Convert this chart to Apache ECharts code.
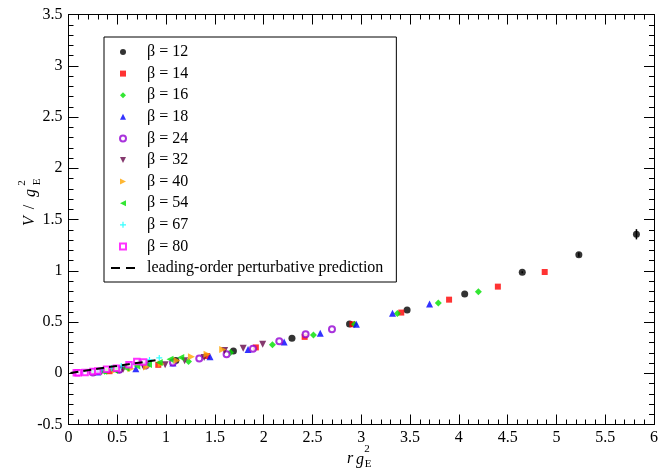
<!DOCTYPE html>
<html><head><meta charset="utf-8">
<script src="https://cdn.jsdelivr.net/npm/echarts@6/dist/echarts.min.js"></script>
<style>html,body{margin:0;padding:0;background:#fff}#c{width:661px;height:471px}</style>
</head><body><div id="c"></div>
<script>
// ---- data ----
const xRange = [0, 6];
const yRange = [-0.5, 3.5];
const tickStep = 0.5;

const b12x = [0.52, 1.10, 1.69, 2.29, 2.88, 3.47, 4.06, 4.65, 5.23, 5.82];
const b12y = [0.035, 0.125, 0.218, 0.342, 0.481, 0.618, 0.774, 0.985, 1.157, 1.356];
const b12err = [0, 0, 0, 0, 0, 0, 0, 0.01, 0.02, 0.05];

const b14x = [0.42, 0.92, 1.42, 1.92, 2.42, 2.91, 3.41, 3.90, 4.40, 4.88];
const b14y = [0.02, 0.082, 0.168, 0.252, 0.355, 0.478, 0.592, 0.718, 0.845, 0.988];

const b16x = [0.37, 0.80, 1.23, 1.66, 2.09, 2.51, 2.93, 3.37, 3.79, 4.20];
const b16y = [0.02, 0.07, 0.114, 0.202, 0.277, 0.374, 0.478, 0.582, 0.686, 0.796];

const b18x = [0.30, 0.69, 1.07, 1.45, 1.84, 2.21, 2.58, 2.95, 3.32, 3.70];
const b18y = [0.012, 0.043, 0.10, 0.16, 0.231, 0.306, 0.39, 0.478, 0.585, 0.676];

const b24x = [0.25, 0.52, 0.79, 1.07, 1.34, 1.62, 1.89, 2.16, 2.43, 2.70];
const b24y = [0.007, 0.033, 0.075, 0.104, 0.143, 0.186, 0.238, 0.313, 0.381, 0.43];

const b32x = [0.34, 0.56, 0.77, 0.99, 1.19, 1.39, 1.60, 1.79, 1.99];
const b32y = [0.015, 0.04, 0.065, 0.082, 0.121, 0.153, 0.221, 0.245, 0.284];

const b40x = [0.48, 0.64, 0.80, 0.95, 1.11, 1.26, 1.42, 1.58];
const b40y = [0.03, 0.045, 0.06, 0.09, 0.124, 0.16, 0.186, 0.231];

const b54x = [0.24, 0.36, 0.47, 0.59, 0.70, 0.82, 0.93, 1.04, 1.15];
const b54y = [0.01, 0.02, 0.03, 0.05, 0.07, 0.085, 0.104, 0.137, 0.153];

const b67x = [0.15, 0.25, 0.34, 0.44, 0.54, 0.64, 0.73, 0.83, 0.93];
const b67y = [0.01, 0.02, 0.03, 0.05, 0.07, 0.09, 0.11, 0.13, 0.15];

const b80x = [0.08, 0.10, 0.17, 0.25, 0.30, 0.39, 0.49, 0.62, 0.70, 0.77];
const b80y = [0.005, 0.006, 0.007, 0.017, 0.023, 0.04, 0.05, 0.082, 0.114, 0.11];

const lineX = [0.02, 0.45, 0.92];
const lineY = [0.003, 0.065, 0.13];

const seriesNames = ['β = 12','β = 14','β = 16','β = 18','β = 24','β = 32','β = 40','β = 54','β = 67','β = 80'];
const lineName = 'leading-order perturbative prediction';

// ---- build ----
const zip = (a, b) => a.map((v, i) => [v, b[i]]);
const FONT = 'Liberation Serif';
const P = {
  rect:'path://M0,0h10v10h-10z',
  diamond:'path://M5,0L10,5L5,10L0,5Z',
  up:'path://M5,0L10,10L0,10Z',
  down:'path://M0,0L10,0L5,10Z',
  right:'path://M0,0L10,5L0,10Z',
  left:'path://M10,0L0,5L10,10Z',
  plus:'path://M4,0h2v4h4v2h-4v4h-2v-4h-4v-2h4z'
};
const sets = [
  {x:b12x, y:b12y, color:'#000000', symbol:'circle', size:7},
  {x:b14x, y:b14y, color:'#ff0000', symbol:P.rect, size:6},
  {x:b16x, y:b16y, color:'#00e000', symbol:P.diamond, size:7},
  {x:b18x, y:b18y, color:'#0000ff', symbol:P.up, size:7},
  {x:b24x, y:b24y, color:'#9400d3', symbol:'emptyCircle', size:6, bw:2},
  {x:b32x, y:b32y, color:'#67074a', symbol:P.down, size:7},
  {x:b40x, y:b40y, color:'#ffa500', symbol:P.right, size:7},
  {x:b54x, y:b54y, color:'#00e000', symbol:P.left, size:7},
  {x:b67x, y:b67y, color:'#00ffff', symbol:P.plus, size:6},
  {x:b80x, y:b80y, color:'#ff00ff', symbol:P.rect, size:5.5, bw:2, fill:'#ffffff'}
];
const series = sets.map((s, i) => ({
  name: seriesNames[i], type:'scatter', data: zip(s.x, s.y),
  symbol: s.symbol, symbolSize: s.size,
  itemStyle: s.bw ? {color:(s.fill || s.color), borderColor:s.color, borderWidth:s.bw} : {color:s.color},
  emphasis:{disabled:true}, z: 2 + i
}));
series.push({
  name:'err', type:'custom', data: b12x.map((x,i)=>[x, b12y[i], b12err[i]]),
  renderItem: (params, api) => {
    const x = api.value(0), y = api.value(1), e = api.value(2);
    if (!e) return;
    const p1 = api.coord([x, y - e]), p2 = api.coord([x, y + e]);
    return {type:'line', shape:{x1:p1[0], y1:p1[1], x2:p2[0], y2:p2[1]}, style:{stroke:'#000', lineWidth:1.5}};
  }, z: 15
});
series.push({
  name: lineName, type:'line', data: zip(lineX, lineY), symbol:'none', showSymbol:false,
  lineStyle:{color:'#000', width:2, type:[8,5]}, itemStyle:{color:'#000'}, z: 20, emphasis:{disabled:true}
});

const axisCommon = {
  axisLine:{show:true, onZero:false, lineStyle:{color:'#000', width:1}},
  axisTick:{show:true, inside:true, length:10, lineStyle:{color:'#000', width:1}},
  minorTick:{show:true, splitNumber:5, length:5, lineStyle:{color:'#000', width:1}},
  splitLine:{show:false}
};
const labelStyle = {color:'#000', fontFamily:FONT, fontSize:16};

const legendData = seriesNames.map(n => ({name:n}));
legendData.push({name:lineName, icon:'path://M0,4h9v2.2h-9z M15,4h9v2.2h-9z', itemStyle:{color:'#000'}});

const chart = echarts.init(document.getElementById('c'), null, {renderer:'canvas'});
chart.setOption({
  animation:false,
  backgroundColor:'#fff',
  grid:{left:68.5, right:5.5, top:14.5, bottom:46.5, containLabel:false},
  xAxis:[
    Object.assign({type:'value', min:xRange[0], max:xRange[1], interval:tickStep, position:'bottom',
      axisLabel:Object.assign({margin:5}, labelStyle)}, axisCommon),
    Object.assign({type:'value', min:xRange[0], max:xRange[1], interval:tickStep, position:'top',
      axisLabel:{show:false}}, axisCommon)
  ],
  yAxis:[
    Object.assign({type:'value', min:yRange[0], max:yRange[1], interval:tickStep, position:'left',
      axisLabel:Object.assign({margin:6}, labelStyle)}, axisCommon),
    Object.assign({type:'value', min:yRange[0], max:yRange[1], interval:tickStep, position:'right',
      axisLabel:{show:false}}, axisCommon)
  ],
  legend:{
    data: legendData,
    orient:'vertical', left:104, top:37,
    padding:[6,13,5,7], itemGap:3.6, itemWidth:24, itemHeight:6,
    symbolKeepAspect:true,
    borderColor:'#000', borderWidth:1, borderRadius:0, backgroundColor:'#fff',
    selectedMode:false,
    textStyle:{fontFamily:FONT, fontSize:16, color:'#000', lineHeight:18, padding:[0,0,0,7]}
  },
  graphic:[
    {type:'group', x:30, y:199, rotation:Math.PI/2, silent:true, children:[
      {type:'text', x:-22, y:0, style:{text:'V', font:'italic 16px "Liberation Serif"', fill:'#000', textAlign:'center', textVerticalAlign:'middle'}},
      {type:'text', x:-8, y:0, style:{text:'/', font:'16px "Liberation Serif"', fill:'#000', textAlign:'center', textVerticalAlign:'middle'}},
      {type:'text', x:6, y:1, style:{text:'g', font:'italic 16px "Liberation Serif"', fill:'#000', textAlign:'center', textVerticalAlign:'middle'}},
      {type:'text', x:16, y:-8, style:{text:'2', font:'11px "Liberation Serif"', fill:'#000', textAlign:'center', textVerticalAlign:'middle'}},
      {type:'text', x:17, y:7, style:{text:'E', font:'11px "Liberation Serif"', fill:'#000', textAlign:'center', textVerticalAlign:'middle'}}
    ]},
    {type:'group', x:360, y:459, silent:true, children:[
      {type:'text', x:-10, y:0, style:{text:'r', font:'italic 16px "Liberation Serif"', fill:'#000', textAlign:'center', textVerticalAlign:'middle'}},
      {type:'text', x:0, y:1, style:{text:'g', font:'italic 16px "Liberation Serif"', fill:'#000', textAlign:'center', textVerticalAlign:'middle'}},
      {type:'text', x:7, y:-10, style:{text:'2', font:'11px "Liberation Serif"', fill:'#000', textAlign:'center', textVerticalAlign:'middle'}},
      {type:'text', x:8, y:5, style:{text:'E', font:'11px "Liberation Serif"', fill:'#000', textAlign:'center', textVerticalAlign:'middle'}}
    ]}
  ],
  series: series
});
</script>
</body></html>
